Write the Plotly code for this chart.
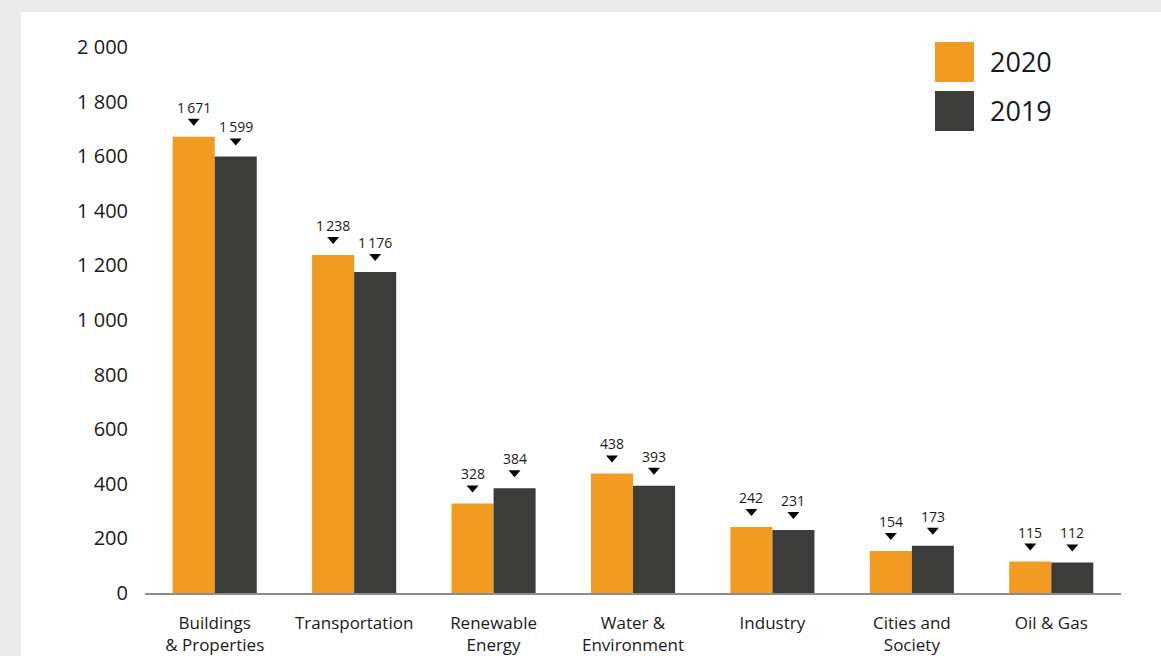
import plotly.graph_objects as go

categories = ["Buildings<br>& Properties", "Transportation", "Renewable<br>Energy",
              "Water &<br>Environment", "Industry", "Cities and<br>Society", "Oil & Gas"]
values_2020 = [1671, 1238, 328, 438, 242, 154, 115]
values_2019 = [1599, 1176, 384, 393, 231, 173, 112]
labels_2020 = ["1\u2009671", "1\u2009238", "328", "438", "242", "154", "115"]
labels_2019 = ["1\u2009599", "1\u2009176", "384", "393", "231", "173", "112"]
tick_vals = [0, 200, 400, 600, 800, 1000, 1200, 1400, 1600, 1800, 2000]
tick_text = ["0", "200", "400", "600", "800", "1 000", "1 200", "1 400",
             "1 600", "1 800", "2 000"]
series_names = ["2020", "2019"]

ORANGE = "#F39A20"
DARK = "#3C3C3B"
FONT = "Open Sans"

fig = go.Figure()
fig.add_trace(go.Bar(x=categories, y=values_2020, name=series_names[0],
                     marker=dict(color=ORANGE, line=dict(width=0))))
fig.add_trace(go.Bar(x=categories, y=values_2019, name=series_names[1],
                     marker=dict(color=DARK, line=dict(width=0))))

shapes = []
annotations = []
# white card on gray page
shapes.append(dict(type="rect", xref="paper", yref="paper", x0=-0.127, x1=1.05,
                   y0=-0.2, y1=1.064, fillcolor="white", line=dict(width=0), layer="below"))

for i in range(len(categories)):
    for vals, labs, dx in ((values_2020, labels_2020, -21), (values_2019, labels_2019, 21)):
        shapes.append(dict(type="path", xref="x", yref="y", xsizemode="pixel", ysizemode="pixel",
                           xanchor=i, yanchor=vals[i],
                           path=f"M {dx-6} 18 L {dx+6} 18 L {dx} 11 Z",
                           fillcolor="black", line=dict(width=0)))
        annotations.append(dict(x=i, y=vals[i], xref="x", yref="y", text=labs[i], showarrow=False,
                                xshift=dx, yshift=18, yanchor="bottom",
                                font=dict(family=FONT, size=14, color="#1a1a1a")))

# legend
for j, (name, col) in enumerate(zip(series_names, [ORANGE, DARK])):
    y_top = 1.0093 - j * 0.0897
    shapes.append(dict(type="rect", xref="paper", yref="paper", x0=0.8094, x1=0.8494,
                       y0=y_top - 0.0733, y1=y_top, fillcolor=col, line=dict(width=0)))
    annotations.append(dict(xref="paper", yref="paper", x=0.8637, y=y_top - 0.0366, text=name,
                            showarrow=False, xanchor="left", yanchor="middle",
                            font=dict(family=FONT, size=27, color="#1a1a1a")))

fig.update_layout(
    width=1161, height=656,
    margin=dict(l=145, r=40, t=47, b=63),
    paper_bgcolor="#EBEBEB", plot_bgcolor="rgba(0,0,0,0)",
    barmode="group", bargap=0.397, bargroupgap=0,
    showlegend=False,
    shapes=shapes, annotations=annotations,
    font=dict(family=FONT, color="#1a1a1a"),
)
fig.update_xaxes(showline=True, linecolor="#8C8C8C", linewidth=1.5, showgrid=False,
                 tickfont=dict(size=17, family=FONT), ticks="", ticklabelstandoff=14,
                 automargin=False)
fig.update_yaxes(range=[0, 2000], tickvals=tick_vals, ticktext=tick_text, showgrid=False,
                 zeroline=False, showline=False, tickfont=dict(size=20, family=FONT),
                 ticklabelstandoff=16, automargin=False)

fig.write_html("out.html", config={"displayModeBar": False},
               post_script="document.body.style.margin='0';document.body.style.overflow='hidden';")
